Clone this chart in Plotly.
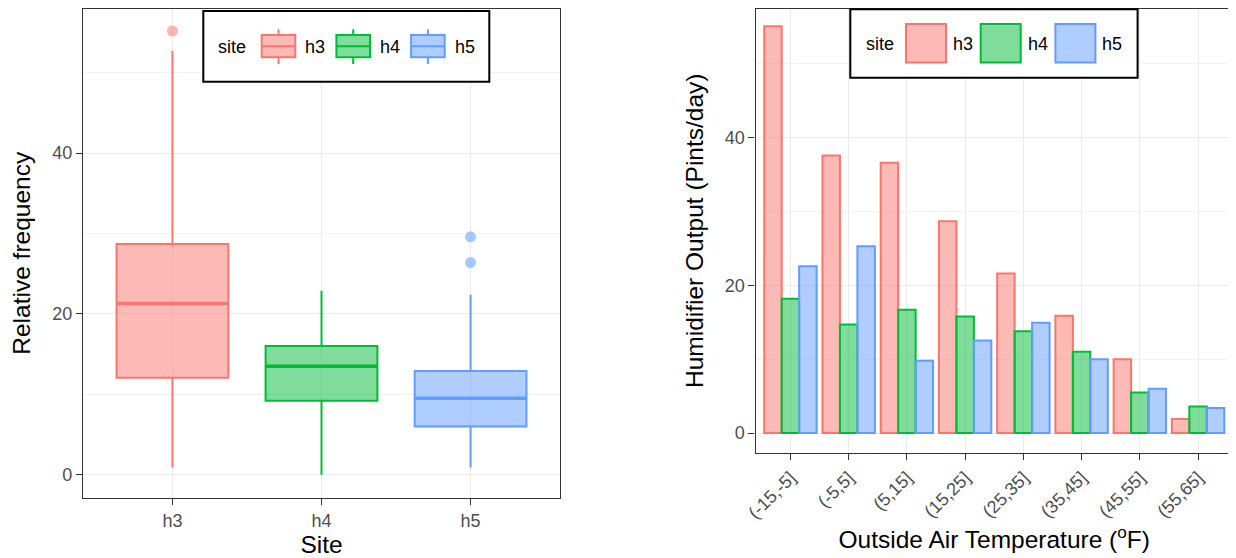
import plotly.graph_objects as go

# ---------------- data ----------------
sites = ["h3", "h4", "h5"]
box_q1 = [12.05, 9.2, 6.0]
box_median = [21.3, 13.5, 9.5]
box_q3 = [28.7, 16.0, 12.9]
box_lower = [0.9, 0.0, 0.9]
box_upper = [52.7, 22.9, 22.4]
outlier_site = ["h3", "h5", "h5"]
outlier_value = [55.2, 29.6, 26.4]

temp_bins = ["(-15,-5]", "(-5,5]", "(5,15]", "(15,25]", "(25,35]", "(35,45]", "(45,55]", "(55,65]"]
h3_output = [55.1, 37.6, 36.6, 28.7, 21.6, 15.9, 10.0, 1.9]
h4_output = [18.2, 14.7, 16.7, 15.8, 13.8, 11.0, 5.5, 3.6]
h5_output = [22.6, 25.3, 9.8, 12.55, 14.95, 10.0, 6.0, 3.4]
bar_series = {"h3": h3_output, "h4": h4_output, "h5": h5_output}

# ---------------- style ----------------
line_colors = {"h3": "#F8766D", "h4": "#00BA38", "h5": "#619CFF"}
fill_colors = {"h3": "rgba(248,118,109,0.5)", "h4": "rgba(0,186,56,0.5)", "h5": "rgba(97,156,255,0.5)"}
FONT = "Liberation Sans, Arial, sans-serif"
OFF = 8                      # page body margin
WF, HF = 1236 - OFF, 558 - OFF
BOX_W = 0.75


def px(x):   # page x pixel -> paper fraction
    return (x - OFF) / WF


def py(y):   # page y pixel -> paper fraction
    return 1 - (y - OFF) / HF


fig = go.Figure()

for i, s in enumerate(sites):
    fig.add_trace(go.Box(
        x=[s], q1=[box_q1[i]], median=[box_median[i]], q3=[box_q3[i]],
        lowerfence=[box_lower[i]], upperfence=[box_upper[i]],
        name=s, width=BOX_W, whiskerwidth=0,
        line=dict(color=line_colors[s], width=2), fillcolor=fill_colors[s],
        xaxis="x", yaxis="y", showlegend=False, boxpoints=False,
    ))

for s in sites:
    ys = [v for v, site in zip(outlier_value, outlier_site) if site == s]
    if ys:
        fig.add_trace(go.Scatter(
            x=[s] * len(ys), y=ys, mode="markers",
            marker=dict(color=line_colors[s], size=11, opacity=0.55),
            showlegend=False, xaxis="x", yaxis="y", hoverinfo="y",
        ))

for s in sites:
    fig.add_trace(go.Bar(
        x=temp_bins, y=bar_series[s], name=s,
        marker=dict(color=fill_colors[s], line=dict(color=line_colors[s], width=2)),
        xaxis="x2", yaxis="y2", showlegend=False,
    ))

tickfont = dict(family=FONT, size=18, color="#4D4D4D")
titlefont = dict(family=FONT, size=24.5, color="black")
grid = "#EBEBEB"
frame = "#333333"

common_axis = dict(showline=True, mirror=True, linecolor=frame, linewidth=1.2,
                   ticks="outside", ticklen=6, tickcolor=frame, tickwidth=1.2,
                   showgrid=True, gridcolor=grid, gridwidth=1.3, zeroline=False,
                   tickfont=tickfont, automargin=False)
minor_grid = dict(tickvals=[10, 30, 50], showgrid=True, gridcolor="#F2F2F2", gridwidth=1, ticks="")

fig.update_layout(
    width=WF, height=HF,
    margin=dict(l=0, r=0, t=0, b=0),
    paper_bgcolor="white", plot_bgcolor="white",
    font=dict(family=FONT),
    barmode="group", bargap=0.1, bargroupgap=0,
    boxmode="overlay",
    xaxis=dict(domain=[px(83), px(560)], anchor="y", type="category",
               categoryorder="array", categoryarray=sites, range=[-0.6, 2.6],
               title=dict(text="Site", font=titlefont, standoff=4), **common_axis),
    yaxis=dict(domain=[py(498), py(8.5)], anchor="x", range=[-2.9, 58.0],
               tickvals=[0, 20, 40], minor=minor_grid,
               title=dict(text="Relative frequency", font=titlefont, standoff=14), **common_axis),
    xaxis2=dict(domain=[px(755.5), px(1233)], anchor="y2", type="category",
                categoryorder="array", categoryarray=temp_bins, range=[-0.6, 7.6],
                tickangle=-45,
                title=dict(text="Outside Air Temperature (<sup>o</sup>F)", font=titlefont, standoff=8),
                **common_axis),
    yaxis2=dict(domain=[py(453), py(8.5)], anchor="x2", range=[-2.7, 57.5],
                tickvals=[0, 20, 40], minor=minor_grid,
                title=dict(text="Humidifier Output (Pints/day)", font=titlefont, standoff=14),
                **common_axis),
)

shapes = []
annotations = []

# thicker median lines (ggplot fatten), positioned on the category axis
for i, s in enumerate(sites):
    shapes.append(dict(type="line", xref="x", yref="y",
                       x0=i - BOX_W / 2, x1=i + BOX_W / 2, y0=box_median[i], y1=box_median[i],
                       line=dict(color=line_colors[s], width=3.5), layer="above"))

# ---------------- legends (drawn in paper space) ----------------
legfont = dict(family=FONT, size=18, color="black")


def legend_frame(x0, y0, x1, y1, title_x, title_y):
    shapes.append(dict(type="rect", xref="paper", yref="paper",
                       x0=px(x0), x1=px(x1), y0=py(y1), y1=py(y0),
                       line=dict(color="black", width=2), fillcolor="white", layer="above"))
    annotations.append(dict(text="site", xref="paper", yref="paper", x=px(title_x), y=py(title_y),
                            xanchor="left", yanchor="middle", showarrow=False, font=legfont))


# left (box) legend
legend_frame(203.3, 11, 489.3, 81.7, 216, 46.5)
for i, s in enumerate(sites):
    kx = 261.7 + 74.7 * i
    cx = kx + 16.8
    shapes.append(dict(type="rect", xref="paper", yref="paper",
                       x0=px(kx), x1=px(kx + 33.6), y0=py(57.3), y1=py(35),
                       line=dict(color=line_colors[s], width=2), fillcolor=fill_colors[s], layer="above"))
    for (a, b) in [(29.3, 35), (57.3, 64)]:
        shapes.append(dict(type="line", xref="paper", yref="paper",
                           x0=px(cx), x1=px(cx), y0=py(a), y1=py(b),
                           line=dict(color=line_colors[s], width=2), layer="above"))
    shapes.append(dict(type="line", xref="paper", yref="paper",
                       x0=px(kx), x1=px(kx + 33.6), y0=py(46.2), y1=py(46.2),
                       line=dict(color=line_colors[s], width=2), layer="above"))
    annotations.append(dict(text=s, xref="paper", yref="paper", x=px(kx + 41.5), y=py(46.5),
                            xanchor="left", yanchor="middle", showarrow=False, font=legfont))

# right (bar) legend
legend_frame(850.3, 9.2, 1137.6, 77.7, 863.5, 43.5)
for i, s in enumerate(sites):
    kx = 906 + 74.7 * i
    shapes.append(dict(type="rect", xref="paper", yref="paper",
                       x0=px(kx), x1=px(kx + 40), y0=py(62.5), y1=py(24),
                       line=dict(color=line_colors[s], width=2), fillcolor=fill_colors[s], layer="above"))
    annotations.append(dict(text=s, xref="paper", yref="paper", x=px(kx + 45), y=py(43.5),
                            xanchor="left", yanchor="middle", showarrow=False, font=legfont))

fig.update_layout(shapes=shapes, annotations=annotations)

fig.write_html("out.html")
